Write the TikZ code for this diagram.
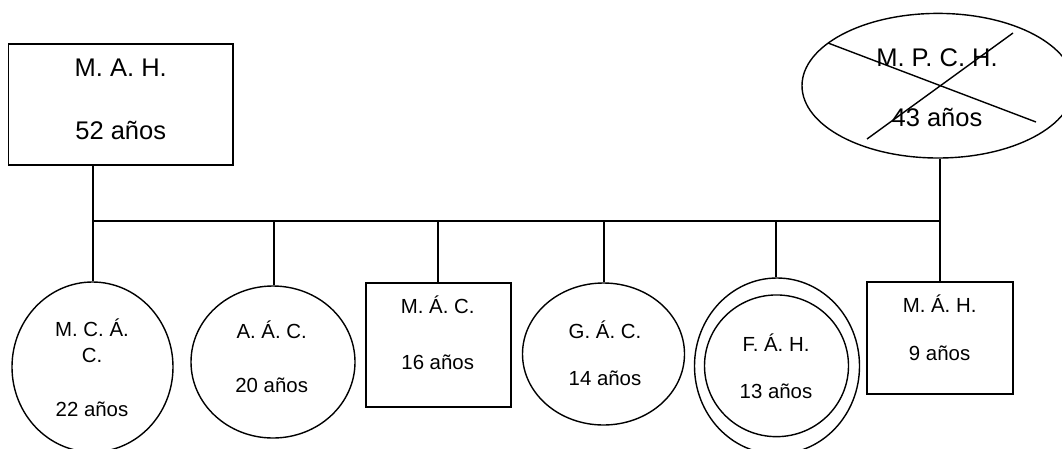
\documentclass[tikz,border=0pt]{standalone}
\usepackage{fontspec}
\setmainfont{Liberation Sans}
\usetikzlibrary{shapes.geometric}
\begin{document}
\begin{tikzpicture}[x=1pt,y=-1pt,
  ln/.style={line width=1.4pt},
  boxshape/.style={draw,line width=1.4pt,rectangle,inner sep=0pt},
  ovalshape/.style={draw,line width=1.4pt,ellipse,inner sep=0pt},
  ptxt/.style={inner sep=0pt,anchor=base,font=\fontsize{25.5}{30}\selectfont},
  ctxt/.style={inner sep=0pt,anchor=base,font=\fontsize{20.4}{24}\selectfont}]
\useasboundingbox (0,0) rectangle (1062,448);
% parents
\node[boxshape,minimum width=224.5pt,minimum height=121pt] (father) at (120.75,104.5) {};
\node[ovalshape,minimum width=272pt,minimum height=144.6pt] (mother) at (938,85.7) {};
\coordinate (x1) at (828,43);
\coordinate (x2) at (1036,122);
\coordinate (x3) at (867,139);
\coordinate (x4) at (1013,33);
\draw[ln] (x1) -- (x2);
\draw[ln] (x3) -- (x4);
% children
\node[ovalshape,minimum width=161pt,minimum height=170pt] (c1) at (92.5,367) {};
\node[ovalshape,minimum width=164pt,minimum height=152pt] (c2) at (273,362) {};
\node[boxshape,minimum width=145pt,minimum height=124pt] (c3) at (438.5,345) {};
\node[ovalshape,minimum width=162pt,minimum height=142pt] (c4) at (603.5,354) {};
\node[ovalshape,minimum width=165pt,minimum height=176pt] (c5o) at (777,366) {};
\node[ovalshape,minimum width=144pt,minimum height=141.7pt] (c5) at (776.5,365.8) {};
\node[boxshape,minimum width=146pt,minimum height=112pt] (c6) at (940,338) {};
% bar
\coordinate (b1) at (93,221);
\coordinate (b2) at (274,221);
\coordinate (b3) at (438,221);
\coordinate (b4) at (604,221);
\coordinate (b5) at (776,221);
\coordinate (b6) at (940,221);
\draw[ln] (b1) -- (b6);
\draw[ln] (b1 |- father.south) -- (b1) -- (b1 |- c1.north);
\draw[ln] (b6 |- mother.south) -- (b6) -- (b6 |- c6.north);
\draw[ln] (b2) -- (b2 |- c2.north);
\draw[ln] (b3) -- (b3 |- c3.north);
\draw[ln] (b4) -- (b4 |- c4.north);
\draw[ln] (b5) -- (b5 |- c5o.north);
% texts
\node[ptxt] (t1a) at (120.75,76.7) {M. A. H.};
\node[ptxt] (t1b) at (120.75,139.3) {52 años};
\node[ptxt] (t2a) at (937,66) {M. P. C. H.};
\node[ptxt] (t2b) at (937,126.7) {43 años};
\node[ctxt] (c1a) at (92,336.7) {M. C. Á.};
\node[ctxt] (c1b) at (92,362.7) {C.};
\node[ctxt] (c1c) at (92,416.7) {22 años};
\node[ctxt] (c2a) at (271.7,338) {A. Á. C.};
\node[ctxt] (c2b) at (271.7,392) {20 años};
\node[ctxt] (c3a) at (437.7,313.7) {M. Á. C.};
\node[ctxt] (c3b) at (437.7,369.8) {16 años};
\node[ctxt] (c4a) at (605,338.3) {G. Á. C.};
\node[ctxt] (c4b) at (605,385) {14 años};
\node[ctxt] (c5a) at (776,351) {F. Á. H.};
\node[ctxt] (c5b) at (776,398.5) {13 años};
\node[ctxt] (c6a) at (939.6,312.8) {M. Á. H.};
\node[ctxt] (c6b) at (939.6,360) {9 años};
\end{tikzpicture}
\end{document}
